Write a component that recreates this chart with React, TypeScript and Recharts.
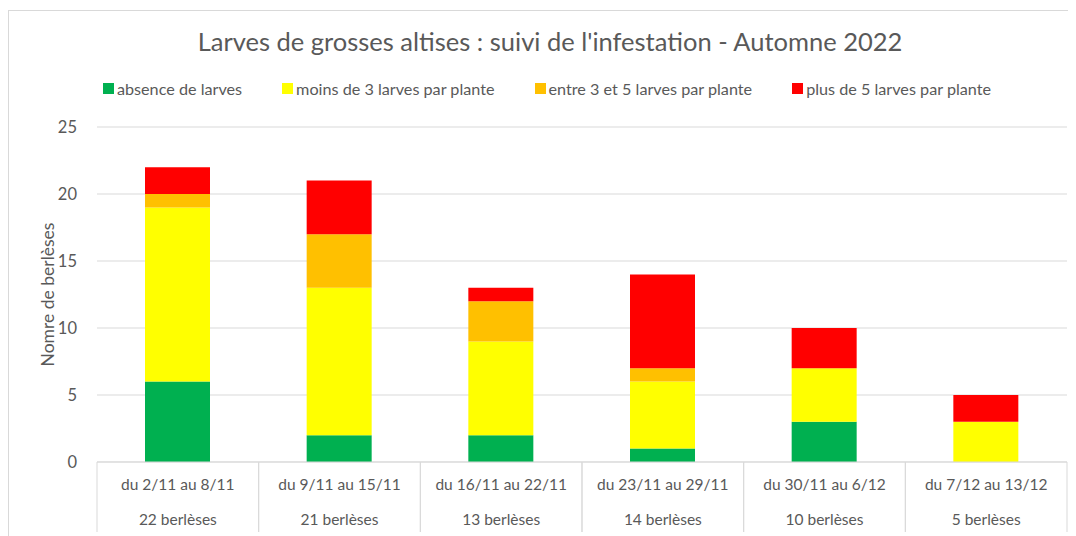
import React from "react";
import { BarChart, Bar, XAxis, YAxis, CartesianGrid, Legend } from "recharts";

const categories = [
  "du 2/11 au 8/11",
  "du 9/11 au 15/11",
  "du 16/11 au 22/11",
  "du 23/11 au 29/11",
  "du 30/11 au 6/12",
  "du 7/12 au 13/12",
];
const berleses = [
  "22 berlèses",
  "21 berlèses",
  "13 berlèses",
  "14 berlèses",
  "10 berlèses",
  "5 berlèses",
];
const absence = [6, 2, 2, 1, 3, 0];
const moins3 = [13, 11, 7, 5, 4, 3];
const entre3et5 = [1, 4, 3, 1, 0, 0];
const plus5 = [2, 4, 1, 7, 3, 2];
const yTicks = [0, 5, 10, 15, 20, 25];

const series = [
  { key: "absence", name: "absence de larves", color: "#00b050" },
  { key: "moins3", name: "moins de 3 larves par plante", color: "#ffff00" },
  { key: "entre3et5", name: "entre 3 et 5 larves par plante", color: "#ffc000" },
  { key: "plus5", name: "plus de 5 larves par plante", color: "#ff0000" },
];

const data = categories.map((cat, i) => ({
  cat,
  absence: absence[i],
  moins3: moins3[i],
  entre3et5: entre3et5[i],
  plus5: plus5[i],
}));

const FONT = "Lato, 'Noto Sans', sans-serif";
const GREY = "#595959";
const LINE = "#d9d9d9";

const CHART_W = 1066;
const CHART_H = 530;
const MARGIN = { top: 116, right: 8, left: 0, bottom: 0 };
const Y_W = 88;
const BAND = (CHART_W - MARGIN.right - Y_W) / categories.length;

const CatTick = (props: any) => {
  const { x, y, index, payload } = props;
  const half = BAND / 2;
  return (
    <g>
      <line x1={x - half} y1={y} x2={x - half} y2={y + 70} stroke={LINE} />
      <line x1={x + half} y1={y} x2={x + half} y2={y + 70} stroke={LINE} />
      <text x={x} y={y + 28} textAnchor="middle" fill={GREY} fontSize={15.5} fontFamily={FONT}>
        {payload.value}
      </text>
      <text x={x} y={y + 63} textAnchor="middle" fill={GREY} fontSize={15.5} fontFamily={FONT}>
        {berleses[index]}
      </text>
    </g>
  );
};

const LegendContent = () => (
  <div
    style={{
      display: "flex",
      justifyContent: "center",
      gap: 40,
      paddingLeft: 10,
      fontFamily: FONT,
      fontSize: 16.2,
      color: GREY,
    }}
  >
    {series.map((s) => (
      <div key={s.key} style={{ display: "flex", alignItems: "center" }}>
        <span style={{ display: "inline-block", width: 11, height: 11, background: s.color, marginRight: 3 }} />
        <span>{s.name}</span>
      </div>
    ))}
  </div>
);

export default function App() {
  return (
    <div
      style={{
        position: "relative",
        width: 1080,
        height: 540,
        marginTop: 2,
        borderLeft: `1px solid ${LINE}`,
        borderTop: `1px solid ${LINE}`,
        background: "#fff",
      }}
    >
      <div
        style={{
          position: "absolute",
          top: 15,
          left: 0,
          width: 1082,
          textAlign: "center",
          fontFamily: FONT,
          fontSize: 25.5,
          color: GREY,
        }}
      >
        Larves de grosses altises : suivi de l'infestation - Automne 2022
      </div>
      <BarChart width={CHART_W} height={CHART_H} data={data} margin={MARGIN}>
        <CartesianGrid vertical={false} stroke={LINE} />
        <XAxis
          dataKey="cat"
          height={CHART_H - 451}
          axisLine={{ stroke: LINE }}
          tickLine={false}
          tickSize={0}
          tickMargin={0}
          interval={0}
          tick={<CatTick />}
        />
        <YAxis
          width={Y_W}
          domain={[0, 25]}
          ticks={yTicks}
          axisLine={false}
          tickLine={false}
          tickMargin={14}
          tick={{ fill: GREY, fontSize: 16.5, fontFamily: FONT }}
          label={{
            value: "Nomre de berlèses",
            angle: -90,
            position: "insideLeft",
            dx: 34,
            fill: GREY,
            fontSize: 17.5,
            fontFamily: FONT,
            style: { textAnchor: "middle" },
          }}
        />
        <Legend
          verticalAlign="middle"
          content={<LegendContent />}
          wrapperStyle={{ top: 68, left: 0, width: CHART_W }}
        />
        {series.map((s) => (
          <Bar
            key={s.key}
            dataKey={s.key}
            name={s.name}
            stackId="a"
            fill={s.color}
            barSize={65}
            isAnimationActive={false}
          />
        ))}
      </BarChart>
    </div>
  );
}
